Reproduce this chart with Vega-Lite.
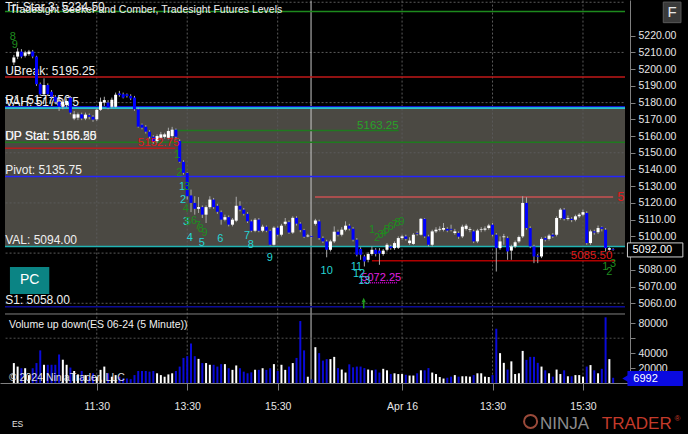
{
"$schema": "https://vega.github.io/schema/vega-lite/v6.json",
"background": "#000000",
"autosize": "none",
"width": 630,
"height": 383,
"padding": {"left": 0, "top": 0, "right": 58, "bottom": 51},
"config": {
  "view": {"stroke": null},
  "font": "Liberation Sans",
  "axis": {"labelFont": "Liberation Sans", "labelFontSize": 10.5, "labelColor": "#e6e6e6", "domainColor": "#808080", "tickColor": "#808080", "title": null, "grid": false, "labelOverlap": false, "labelFlush": false},
  "text": {"font": "Liberation Sans"}
},
"datasets": {
  "bars": [
{"i":0,"o":5204,"h":5208.5,"l":5202.5,"c":5207,"v":26700},
{"i":1,"o":5207.5,"h":5212.5,"l":5206,"c":5210.5,"v":22000},
{"i":2,"o":5210.5,"h":5212,"l":5206.5,"c":5207.5,"v":19800},
{"i":3,"o":5208,"h":5211,"l":5207,"c":5210,"v":19800},
{"i":4,"o":5209,"h":5211.5,"l":5208,"c":5210.5,"v":10600},
{"i":5,"o":5210.5,"h":5211.5,"l":5206.5,"c":5207.5,"v":19800},
{"i":6,"o":5207.5,"h":5208,"l":5190,"c":5191,"v":26700},
{"i":7,"o":5191,"h":5192,"l":5184,"c":5185,"v":43700},
{"i":8,"o":5185,"h":5194.5,"l":5184,"c":5190.5,"v":24400},
{"i":9,"o":5190.5,"h":5191.5,"l":5184,"c":5185,"v":24400},
{"i":10,"o":5186.5,"h":5187.5,"l":5182.5,"c":5183.5,"v":24400},
{"i":11,"o":5183.5,"h":5184.5,"l":5179,"c":5180.5,"v":24400},
{"i":12,"o":5180.5,"h":5182,"l":5175,"c":5177.5,"v":38200},
{"i":13,"o":5177.5,"h":5182,"l":5176,"c":5180.5,"v":31200},
{"i":14,"o":5178.5,"h":5182.5,"l":5177,"c":5181,"v":24400},
{"i":15,"o":5183,"h":5184,"l":5173,"c":5174,"v":20700},
{"i":16,"o":5170.5,"h":5175,"l":5169.5,"c":5173,"v":16100},
{"i":17,"o":5171,"h":5174,"l":5169.5,"c":5173,"v":11500},
{"i":18,"o":5173,"h":5174,"l":5169.5,"c":5170.5,"v":16100},
{"i":19,"o":5170.5,"h":5174,"l":5169.5,"c":5172.8,"v":10600},
{"i":20,"o":5172.5,"h":5173.5,"l":5170,"c":5171.5,"v":8400},
{"i":21,"o":5171.5,"h":5172.5,"l":5168.5,"c":5169.8,"v":13000},
{"i":22,"o":5170,"h":5176.5,"l":5169,"c":5175.7,"v":8400},
{"i":23,"o":5175.7,"h":5183,"l":5175,"c":5180.5,"v":17600},
{"i":24,"o":5180,"h":5183.5,"l":5178,"c":5181.5,"v":22000},
{"i":25,"o":5180,"h":5181.5,"l":5176,"c":5177,"v":13000},
{"i":26,"o":5177.5,"h":5183,"l":5176.5,"c":5181.7,"v":8400},
{"i":27,"o":5177.5,"h":5186,"l":5177,"c":5184.7,"v":10600},
{"i":28,"o":5185.5,"h":5187,"l":5183.5,"c":5184.5,"v":8400},
{"i":29,"o":5185,"h":5186,"l":5182.5,"c":5183,"v":6100},
{"i":30,"o":5185,"h":5185.5,"l":5183,"c":5184,"v":6100},
{"i":31,"o":5184,"h":5185,"l":5181.5,"c":5182.5,"v":5200},
{"i":32,"o":5183,"h":5184,"l":5175,"c":5176,"v":10600},
{"i":33,"o":5176,"h":5177,"l":5165,"c":5165.6,"v":16100},
{"i":34,"o":5166.8,"h":5167.5,"l":5164,"c":5165,"v":16100},
{"i":35,"o":5165.6,"h":5166.5,"l":5161.5,"c":5162.6,"v":16100},
{"i":36,"o":5162.6,"h":5163.5,"l":5158.5,"c":5159.6,"v":15200},
{"i":37,"o":5159.6,"h":5160.5,"l":5155.5,"c":5156.5,"v":16100},
{"i":38,"o":5157,"h":5161,"l":5156,"c":5160,"v":13000},
{"i":39,"o":5159,"h":5162.5,"l":5158,"c":5161,"v":10600},
{"i":40,"o":5159.5,"h":5162,"l":5158.5,"c":5161,"v":8400},
{"i":41,"o":5159,"h":5165,"l":5158,"c":5163,"v":11500},
{"i":42,"o":5160,"h":5165.5,"l":5159,"c":5163.8,"v":13000},
{"i":43,"o":5163.8,"h":5164.5,"l":5158,"c":5159.6,"v":16100},
{"i":44,"o":5157,"h":5158,"l":5144,"c":5144.6,"v":22000},
{"i":45,"o":5144.6,"h":5145.5,"l":5137,"c":5138,"v":33600},
{"i":46,"o":5138,"h":5138.5,"l":5122,"c":5124,"v":35900},
{"i":47,"o":5124.5,"h":5128,"l":5114.5,"c":5120,"v":52900},
{"i":48,"o":5120,"h":5124,"l":5113,"c":5116.5,"v":35900},
{"i":49,"o":5116.5,"h":5123.5,"l":5114,"c":5117.5,"v":32300},
{"i":50,"o":5117.5,"h":5118.5,"l":5111,"c":5113,"v":26700},
{"i":51,"o":5113,"h":5118.5,"l":5108,"c":5117.5,"v":26700},
{"i":52,"o":5117.5,"h":5124,"l":5116.5,"c":5122,"v":24400},
{"i":53,"o":5122,"h":5123,"l":5116.5,"c":5117.5,"v":24400},
{"i":54,"o":5118.3,"h":5119.5,"l":5113.5,"c":5114.7,"v":22000},
{"i":55,"o":5114.5,"h":5115.5,"l":5107,"c":5110,"v":25300},
{"i":56,"o":5110,"h":5113,"l":5109,"c":5111.5,"v":25300},
{"i":57,"o":5111.5,"h":5112.5,"l":5106,"c":5107,"v":19800},
{"i":58,"o":5107,"h":5111,"l":5106,"c":5110,"v":17600},
{"i":59,"o":5109.4,"h":5123.7,"l":5108.5,"c":5118.3,"v":23500},
{"i":60,"o":5118.3,"h":5121,"l":5115,"c":5116,"v":19800},
{"i":61,"o":5116,"h":5117,"l":5112.5,"c":5113.5,"v":15200},
{"i":62,"o":5113.5,"h":5114.5,"l":5108,"c":5109,"v":13000},
{"i":63,"o":5109,"h":5110,"l":5102.5,"c":5103.4,"v":14300},
{"i":64,"o":5103.4,"h":5111,"l":5102.5,"c":5110,"v":17600},
{"i":65,"o":5110,"h":5111,"l":5102.5,"c":5103.4,"v":17600},
{"i":66,"o":5103.4,"h":5107,"l":5102.5,"c":5105.8,"v":19800},
{"i":67,"o":5105.8,"h":5106.5,"l":5102.5,"c":5103.4,"v":17600},
{"i":68,"o":5103.4,"h":5104,"l":5094.5,"c":5095,"v":19800},
{"i":69,"o":5095,"h":5106,"l":5094.5,"c":5105.2,"v":25300},
{"i":70,"o":5105.2,"h":5106,"l":5100,"c":5101,"v":16100},
{"i":71,"o":5101,"h":5107.5,"l":5100,"c":5106.4,"v":24400},
{"i":72,"o":5107.5,"h":5111,"l":5106.5,"c":5108.8,"v":17600},
{"i":73,"o":5108.5,"h":5109.5,"l":5101.5,"c":5102.3,"v":22000},
{"i":74,"o":5102.3,"h":5112,"l":5101.5,"c":5111.1,"v":26700},
{"i":75,"o":5111.1,"h":5112,"l":5106.5,"c":5107.6,"v":33600},
{"i":76,"o":5107.6,"h":5108.5,"l":5102.5,"c":5103.8,"v":83000},
{"i":77,"o":5103.8,"h":5104.5,"l":5099,"c":5099.8,"v":43700},
{"i":78,"o":5100,"h":5101.5,"l":5099.5,"c":5100.5,"v":8400},
{"i":79,"o":5100.3,"h":5100.8,"l":5099.3,"c":5099.8,"v":4800},
{"i":80,"o":5107.5,"h":5110.5,"l":5106.5,"c":5109.5,"v":48000},
{"i":81,"o":5109,"h":5110,"l":5098,"c":5099,"v":40000},
{"i":82,"o":5099,"h":5100,"l":5096,"c":5097,"v":30000},
{"i":83,"o":5097,"h":5098,"l":5087.5,"c":5092,"v":32000},
{"i":84,"o":5092,"h":5098,"l":5091,"c":5097,"v":32000},
{"i":85,"o":5097,"h":5106,"l":5096,"c":5102.8,"v":35000},
{"i":86,"o":5102.8,"h":5104,"l":5100,"c":5101,"v":20000},
{"i":87,"o":5101,"h":5105.5,"l":5100,"c":5104,"v":18000},
{"i":88,"o":5104,"h":5109,"l":5103,"c":5106.4,"v":14000},
{"i":89,"o":5106.4,"h":5107.5,"l":5103.5,"c":5104.6,"v":25000},
{"i":90,"o":5104.6,"h":5105.5,"l":5097,"c":5098,"v":21000},
{"i":91,"o":5098,"h":5099,"l":5088,"c":5089,"v":22000},
{"i":92,"o":5092.5,"h":5093.5,"l":5086,"c":5089,"v":22000},
{"i":93,"o":5088,"h":5089,"l":5082,"c":5085,"v":20000},
{"i":94,"o":5086,"h":5090.5,"l":5084.5,"c":5089.5,"v":18000},
{"i":95,"o":5089.5,"h":5094,"l":5088.5,"c":5092,"v":17000},
{"i":96,"o":5092,"h":5093,"l":5088,"c":5089.5,"v":18000},
{"i":97,"o":5091.5,"h":5093,"l":5083,"c":5089.8,"v":14000},
{"i":98,"o":5089.5,"h":5092.5,"l":5088.5,"c":5091.5,"v":19000},
{"i":99,"o":5092,"h":5096,"l":5091,"c":5095,"v":17000},
{"i":100,"o":5094,"h":5095,"l":5092,"c":5093,"v":12000},
{"i":101,"o":5093,"h":5097,"l":5092,"c":5096,"v":13000},
{"i":102,"o":5093.2,"h":5100,"l":5092.5,"c":5099,"v":12000},
{"i":103,"o":5099,"h":5101,"l":5098,"c":5100,"v":12000},
{"i":104,"o":5100,"h":5101,"l":5097.5,"c":5098.5,"v":11000},
{"i":105,"o":5096,"h":5099.5,"l":5095,"c":5097.5,"v":10000},
{"i":106,"o":5095.5,"h":5102,"l":5095,"c":5101,"v":10000},
{"i":107,"o":5102,"h":5103,"l":5100.5,"c":5101.6,"v":13000},
{"i":108,"o":5101,"h":5111,"l":5100.5,"c":5110.5,"v":17000},
{"i":109,"o":5110.5,"h":5111,"l":5099,"c":5100,"v":17000},
{"i":110,"o":5100,"h":5101,"l":5094,"c":5095,"v":20000},
{"i":111,"o":5095,"h":5104,"l":5094,"c":5103,"v":14000},
{"i":112,"o":5103,"h":5105.5,"l":5102,"c":5104,"v":12000},
{"i":113,"o":5104,"h":5106,"l":5103,"c":5104.5,"v":8000},
{"i":114,"o":5104,"h":5108,"l":5103,"c":5105,"v":6000},
{"i":115,"o":5104.5,"h":5105.5,"l":5102.5,"c":5103.5,"v":7000},
{"i":116,"o":5104.5,"h":5107,"l":5103,"c":5104,"v":8500},
{"i":117,"o":5102,"h":5104.5,"l":5101,"c":5103,"v":10600},
{"i":118,"o":5102,"h":5103,"l":5098.5,"c":5099.8,"v":8500},
{"i":119,"o":5100,"h":5107,"l":5099,"c":5105.8,"v":9000},
{"i":120,"o":5104.5,"h":5107.5,"l":5103.5,"c":5106.4,"v":9000},
{"i":121,"o":5103.8,"h":5105.5,"l":5102.5,"c":5104.3,"v":8500},
{"i":122,"o":5103,"h":5104,"l":5096,"c":5097,"v":10600},
{"i":123,"o":5097,"h":5104.5,"l":5096,"c":5103.5,"v":13000},
{"i":124,"o":5103.8,"h":5105.5,"l":5102.5,"c":5104.2,"v":13000},
{"i":125,"o":5104,"h":5106,"l":5103,"c":5104.7,"v":8500},
{"i":126,"o":5105,"h":5107.5,"l":5104,"c":5106.5,"v":8000},
{"i":127,"o":5107,"h":5108,"l":5100,"c":5101,"v":10600},
{"i":128,"o":5101,"h":5102,"l":5079,"c":5093,"v":72700},
{"i":129,"o":5093,"h":5100,"l":5092,"c":5097,"v":40000},
{"i":130,"o":5099.5,"h":5101.5,"l":5095,"c":5100,"v":27000},
{"i":131,"o":5099,"h":5100,"l":5086,"c":5091,"v":18000},
{"i":132,"o":5091.5,"h":5095,"l":5086,"c":5094,"v":29000},
{"i":133,"o":5094,"h":5097.5,"l":5093,"c":5096.5,"v":12000},
{"i":134,"o":5097,"h":5100.5,"l":5096,"c":5099.6,"v":13000},
{"i":135,"o":5100,"h":5124,"l":5099,"c":5120,"v":43000},
{"i":136,"o":5120,"h":5123.5,"l":5104,"c":5105,"v":31000},
{"i":137,"o":5105,"h":5106,"l":5093,"c":5094,"v":35000},
{"i":138,"o":5094,"h":5095,"l":5084,"c":5088,"v":35000},
{"i":139,"o":5088.5,"h":5089.5,"l":5084,"c":5087.8,"v":27000},
{"i":140,"o":5088,"h":5099.5,"l":5087,"c":5098.5,"v":22000},
{"i":141,"o":5099,"h":5100,"l":5097,"c":5098,"v":17000},
{"i":142,"o":5098.5,"h":5101.5,"l":5097.5,"c":5100.5,"v":13000},
{"i":143,"o":5101,"h":5102,"l":5099,"c":5100,"v":8500},
{"i":144,"o":5101,"h":5112,"l":5100,"c":5111,"v":18000},
{"i":145,"o":5111,"h":5117,"l":5110,"c":5116,"v":12000},
{"i":146,"o":5116,"h":5117,"l":5109.5,"c":5110.5,"v":17000},
{"i":147,"o":5110.5,"h":5112.5,"l":5109.5,"c":5111,"v":9000},
{"i":148,"o":5110.5,"h":5111.5,"l":5108.5,"c":5109.8,"v":9000},
{"i":149,"o":5110,"h":5113,"l":5109,"c":5112,"v":10600},
{"i":150,"o":5112,"h":5114,"l":5111,"c":5113,"v":10600},
{"i":151,"o":5113,"h":5116,"l":5112,"c":5114.5,"v":8500},
{"i":152,"o":5114,"h":5115,"l":5095,"c":5096,"v":22000},
{"i":153,"o":5096,"h":5104,"l":5095,"c":5103,"v":24000},
{"i":154,"o":5103,"h":5104,"l":5101,"c":5102.3,"v":17000},
{"i":155,"o":5102.5,"h":5106.5,"l":5101.5,"c":5105,"v":13000},
{"i":156,"o":5105.5,"h":5106,"l":5103,"c":5104.5,"v":19000},
{"i":157,"o":5104,"h":5105,"l":5091,"c":5093,"v":88000},
{"i":158,"o":5092,"h":5093.5,"l":5091.5,"c":5093,"v":32000},
{"i":159,"o":5092.5,"h":5093,"l":5091.5,"c":5092,"v":6992}
  ],
  "ticks": [{"i":22},{"i":46},{"i":70},{"i":103},{"i":127},{"i":151}],
  "session": [{"i":78.85}],
  "levels": [
    {"k":"Tri-Star","p":5234.5},{"k":"UBreak","p":5195.25},{"k":"R1","p":5177.5},{"k":"VAH","p":5176.75},
    {"k":"DP Stat","p":5156.25},{"k":"Pivot","p":5135.75},{"k":"VAL","p":5094},{"k":"S1","p":5058}
  ],
  "td": [
    {"n":"1","i":44.65,"p":5129.7,"k":"td count"},{"n":"2","i":44.9,"p":5121.9,"k":"td count"},
    {"n":"3","i":45.7,"p":5108.8,"k":"td count"},{"n":"4","i":46.7,"p":5099.2,"k":"td count"},
    {"n":"5","i":49.9,"p":5096.2,"k":"td count"},{"n":"6","i":54.8,"p":5098.6,"k":"td count"},
    {"n":"7","i":61.9,"p":5100.4,"k":"td count"},{"n":"8","i":62.9,"p":5095.0,"k":"td count"},
    {"n":"9","i":67.9,"p":5087.2,"k":"td count"},{"n":"10","i":83.0,"p":5079.5,"k":"td count"},
    {"n":"11","i":90.9,"p":5081.8,"k":"td count"},{"n":"12","i":91.6,"p":5077.7,"k":"td count"},
    {"n":"13","i":93.0,"p":5073.5,"k":"td count"},
    {"n":"8","i":-0.26,"p":5219.2,"k":"td setup"},{"n":"9","i":0.26,"p":5214.5,"k":"td setup"},
    {"n":"1","i":43.3,"p":5148.8,"k":"td setup"},{"n":"2","i":43.9,"p":5138.1,"k":"td setup"},
    {"n":"3","i":45.9,"p":5129.7,"k":"td setup"},{"n":"4","i":45.6,"p":5116.5,"k":"td setup"},
    {"n":"5","i":46.2,"p":5108.8,"k":"td setup"},{"n":"6","i":47.8,"p":5109.4,"k":"td setup"},
    {"n":"7","i":48.8,"p":5106.4,"k":"td setup"},{"n":"8","i":49.6,"p":5104.6,"k":"td setup"},
    {"n":"9","i":50.6,"p":5102.2,"k":"td setup"},
    {"n":"1","i":95.04,"p":5104.0,"k":"td setup"},{"n":"2","i":96.34,"p":5099.2,"k":"td setup"},
    {"n":"3","i":97.39,"p":5101.0,"k":"td setup"},{"n":"4","i":98.17,"p":5102.2,"k":"td setup"},
    {"n":"5","i":98.96,"p":5104.0,"k":"td setup"},{"n":"6","i":100.0,"p":5105.8,"k":"td setup"},
    {"n":"7","i":101.05,"p":5107.0,"k":"td setup"},{"n":"8","i":101.83,"p":5108.2,"k":"td setup"},
    {"n":"9","i":102.87,"p":5108.8,"k":"td setup"},
    {"n":"1","i":156.9,"p":5081.8,"k":"td setup"},{"n":"2","i":157.96,"p":5078.9,"k":"td setup"},
    {"n":"3","i":159.0,"p":5083.6,"k":"td setup"}
  ]
},
"resolve": {"scale": {"y": "independent"}, "axis": {"x": "independent", "y": "independent"}},
"layer": [
{
  "resolve": {"axis": {"x": "independent", "y": "independent"}},
  "layer": [
    {"data": {"values": [{"lo":5094,"hi":5176.75}]},
     "mark": {"type":"rect","color":"#4b4943"},
     "encoding": {"x": {"datum": -2.35, "scale":{"domain":[-2.35,162.15],"nice":false,"zero":false}, "axis": null},
                  "x2": {"datum": 162.15},
                  "y": {"field":"hi","type":"quantitative","scale":{"domain":[5012.34,5241.35],"nice":false,"zero":false},
                        "axis":{"orient":"right","values":[5060,5070,5080,5090,5100,5110,5120,5130,5140,5150,5160,5170,5180,5190,5200,5210,5220],"format":".2f","tickSize":5,"labelPadding":3,"labelOverlap":false,"domain":true}},
                  "y2": {"field":"lo"}}},
    {"data": {"values": [{"p":5060},{"p":5090},{"p":5120},{"p":5150},{"p":5180},{"p":5210},{"p":5240}]},
     "mark": {"type":"rule","color":"#5a5a5a","strokeDash":[2,2],"strokeWidth":1},
     "encoding": {"x": {"datum": -2.2, "axis": null}, "x2": {"datum": 162.15},
                  "y": {"field":"p","type":"quantitative","axis":null}}},
    {"data": {"name": "ticks"},
     "mark": {"type":"rule","color":"#5a5a5a","strokeDash":[2,2],"strokeWidth":1},
     "encoding": {"x": {"field":"i","type":"quantitative","axis":null},
                  "y": {"datum": 5241.0, "axis": null}, "y2": {"datum": 5012.34}}},
    {"data": {"name": "session"},
     "mark": {"type":"rule","color":"#c8c8c8","strokeWidth":1},
     "encoding": {"x": {"field":"i","type":"quantitative","axis":null},
                  "y": {"datum": 5241.0, "axis": null}, "y2": {"datum": 5012.34}}},
    {"data": {"values": [{"p":5053.6}]},
     "mark": {"type":"rule","color":"#808080","strokeWidth":1},
     "encoding": {"x": {"datum": -2.35, "axis": null}, "x2": {"datum": 162.15},
                  "y": {"field":"p","type":"quantitative","axis":null}}},
    {"data": {"name": "levels"},
     "mark": {"type":"rule","strokeWidth":1.5},
     "encoding": {"x": {"datum": -2.35, "axis": null}, "x2": {"datum": 162.15},
                  "y": {"field":"p","type":"quantitative","axis":null},
                  "color": {"field":"k","type":"nominal","legend":null,
                    "scale": {"domain":["Tri-Star","UBreak","R1","VAH","DP Stat","Pivot","VAL","S1","seg green","seg red","seg salmon","seg dkred","magenta","td count","td setup","lbl green","lbl red","lbl magenta"],
                              "range":["#1d8a1d","#c01818","#1414c8","#22e4f4","#1f7a1f","#2424ff","#22b4b4","#0c0c96","#1f7a1f","#b81c1c","#c85050","#b00000","#d400d4","#25d5d5","#1f8c1f","#27a327","#e01a1a","#e020e0"]}}}},
    {"data": {"values": [
        {"k":"seg green","p":5163.25,"x0":42.5,"x1":102.1},
        {"k":"seg red","p":5152.75,"x0":-2.35,"x1":42.8},
        {"k":"seg salmon","p":5123.5,"x0":79.9,"x1":159.0},
        {"k":"seg dkred","p":5085.5,"x0":95.0,"x1":159.5}]},
     "mark": {"type":"rule","strokeWidth":1.5},
     "encoding": {"x": {"field":"x0","type":"quantitative","axis":null}, "x2": {"field":"x1"},
                  "y": {"field":"p","type":"quantitative","axis":null},
                  "color": {"field":"k","type":"nominal","legend":null,
                    "scale": {"domain":["Tri-Star","UBreak","R1","VAH","DP Stat","Pivot","VAL","S1","seg green","seg red","seg salmon","seg dkred","magenta","td count","td setup","lbl green","lbl red","lbl magenta"],
                              "range":["#1d8a1d","#c01818","#1414c8","#22e4f4","#1f7a1f","#2424ff","#22b4b4","#0c0c96","#1f7a1f","#b81c1c","#c85050","#b00000","#d400d4","#25d5d5","#1f8c1f","#27a327","#e01a1a","#e020e0"]}}}},
    {"data": {"values": [{"p":5072.25,"x0":91.8,"x1":101.6}]},
     "mark": {"type":"rule","strokeWidth":1.5,"color":"#d400d4","strokeDash":[1,1]},
     "encoding": {"x": {"field":"x0","type":"quantitative","axis":null}, "x2": {"field":"x1"},
                  "y": {"field":"p","type":"quantitative","axis":null}}},
    {"data": {"values": [
        {"t":"UBreak: 5195.25","p":5195.25},{"t":"R1: 5177.50","p":5177.5},{"t":"VAH: 5176.75","p":5176.75},
        {"t":"UP Stat: 5165.50","p":5156.25},{"t":"DP Stat: 5156.25","p":5156.25},
        {"t":"Pivot: 5135.75","p":5135.75},{"t":"VAL: 5094.00","p":5094},{"t":"S1: 5058.00","p":5058},
        {"t":"Tri-Star 3: 5234.50","p":5233.5}]},
     "mark": {"type":"text","align":"left","baseline":"alphabetic","dy":-2.5,"fontSize":12,"color":"#f0f0f0"},
     "encoding": {"x": {"datum": -2.3, "axis": null}, "y": {"field":"p","type":"quantitative","axis":null}, "text": {"field":"t"}}},
    {"data": {"name": "bars"},
     "mark": {"type":"rule","color":"#a9a9a9","strokeWidth":1},
     "encoding": {"x": {"field":"i","type":"quantitative","axis":null}, "y": {"field":"l","type":"quantitative","axis":null}, "y2": {"field":"h"}}},
    {"data": {"name": "bars"},
     "mark": {"type":"bar","size":3},
     "encoding": {
       "x": {"field":"i","type":"quantitative","axis":null},
       "y": {"field":"o","type":"quantitative","axis":null},
       "y2": {"field":"c"},
       "color": {"condition": {"test":"datum.c >= datum.o","value":"#ffffff"},"value":"#0000ff"}}},
    {"data": {"values": [
        {"t":"5163.25","p":5163.25,"x":102.1,"k":"lbl green"},
        {"t":"5152.75","p":5152.75,"x":43.9,"k":"lbl red"},
        {"t":"5085.50","p":5085.5,"x":158.8,"k":"lbl red"}]},
     "mark": {"type":"text","align":"right","baseline":"alphabetic","dy":-2,"fontSize":11.5},
     "encoding": {"x": {"field":"x","type":"quantitative","axis":null}, "y": {"field":"p","type":"quantitative","axis":null}, "text": {"field":"t"},
                  "color": {"field":"k","type":"nominal","legend":null,
                    "scale": {"domain":["Tri-Star","UBreak","R1","VAH","DP Stat","Pivot","VAL","S1","seg green","seg red","seg salmon","seg dkred","magenta","td count","td setup","lbl green","lbl red","lbl magenta"],
                              "range":["#1d8a1d","#c01818","#1414c8","#22e4f4","#1f7a1f","#2424ff","#22b4b4","#0c0c96","#1f7a1f","#b81c1c","#c85050","#b00000","#d400d4","#25d5d5","#1f8c1f","#27a327","#e01a1a","#e020e0"]}}}},
    {"data": {"values": [{"t":"5072.25","p":5072.25,"x":92.2}]},
     "mark": {"type":"text","align":"left","baseline":"alphabetic","dy":-1.5,"fontSize":11,"color":"#e020e0"},
     "encoding": {"x": {"field":"x","type":"quantitative","axis":null}, "y": {"field":"p","type":"quantitative","axis":null}, "text": {"field":"t"}}},
    {"data": {"values": [{"t":"5","p":5123.3,"x":160.1}]},
     "mark": {"type":"text","align":"left","baseline":"middle","fontSize":13,"color":"#e01a1a"},
     "encoding": {"x": {"field":"x","type":"quantitative","axis":null}, "y": {"field":"p","type":"quantitative","axis":null}, "text": {"field":"t"}}},
    {"data": {"name": "td"},
     "mark": {"type":"text","align":"center","baseline":"middle","fontSize":11},
     "encoding": {"x": {"field":"i","type":"quantitative","axis":null}, "y": {"field":"p","type":"quantitative","axis":null}, "text": {"field":"n"},
                  "color": {"field":"k","type":"nominal","legend":null,
                    "scale": {"domain":["Tri-Star","UBreak","R1","VAH","DP Stat","Pivot","VAL","S1","seg green","seg red","seg salmon","seg dkred","magenta","td count","td setup","lbl green","lbl red","lbl magenta"],
                              "range":["#1d8a1d","#c01818","#1414c8","#22e4f4","#1f7a1f","#2424ff","#22b4b4","#0c0c96","#1f7a1f","#b81c1c","#c85050","#b00000","#d400d4","#25d5d5","#1f8c1f","#27a327","#e01a1a","#e020e0"]}}}},
    {"data": {"values": [{"t":"PC"}]},
     "mark": {"type":"rect","color":"#0b8484"},
     "encoding": {"x": {"datum": -1.04, "axis": null}, "x2": {"datum": 9.4}, "y": {"datum": 5081.7, "axis": null}, "y2": {"datum": 5065.6}}},
    {"data": {"values": [{"t":"PC"}]},
     "mark": {"type":"text","align":"center","baseline":"middle","fontSize":14,"color":"#ffffff"},
     "encoding": {"x": {"datum": 4.18, "axis": null}, "y": {"datum": 5073.7, "axis": null}, "text": {"field":"t"}}},
    {"data": {"values": [{"t":"F"}]},
     "mark": {"type":"rect","color":"#3a3a3a","stroke":"#5a5a5a","strokeWidth":1},
     "encoding": {"x": {"datum": 172.3, "axis": null}, "x2": {"datum": 177.0}, "y": {"datum": 5240.1, "axis": null}, "y2": {"datum": 5227.8}}},
    {"data": {"values": [{"t":"F"}]},
     "mark": {"type":"text","align":"center","baseline":"middle","fontSize":15,"color":"#e8e8e8"},
     "encoding": {"x": {"datum": 174.67, "axis": null}, "y": {"datum": 5234.0, "axis": null}, "text": {"field":"t"}}},
    {"data": {"values": [{"t":"5092.00"}]},
     "mark": {"type":"rect","color":"#000000","stroke":"#d0d0d0","strokeWidth":1},
     "encoding": {"x": {"datum": 162.8, "axis": null}, "x2": {"datum": 177.5}, "y": {"datum": 5096.1, "axis": null}, "y2": {"datum": 5087.7}}},
    {"data": {"values": [{"t":"5092.00"}]},
     "mark": {"type":"text","align":"center","baseline":"middle","fontSize":11,"color":"#ffffff"},
     "encoding": {"x": {"datum": 169.4, "axis": null}, "y": {"datum": 5091.9, "axis": null}, "text": {"field":"t"}}},
    {"data": {"values": [{"t":"Tradesight Seeker and Comber, Tradesight Futures Levels"}]},
     "mark": {"type":"text","align":"left","baseline":"alphabetic","fontSize":10.5,"color":"#f0f0f0"},
     "encoding": {"x": {"datum": -1.0, "axis": null}, "y": {"datum": 5233.3, "axis": null}, "text": {"field":"t"}}},
    {"data": {"values": [{"t":"arrow"}]},
     "mark": {"type":"point","shape":"arrow","size":110,"filled":true,"color":"#1f9a1f","opacity":1},
     "encoding": {"x": {"datum": 92.82, "axis": null}, "y": {"datum": 5060.2, "axis": null}}}
  ]
},
{
  "resolve": {"axis": {"x": "independent", "y": "independent"}},
  "layer": [
    {"data": {"name": "bars"},
     "mark": {"type":"bar","size":2},
     "encoding": {
       "x": {"field":"i","type":"quantitative",
             "axis":{"orient":"bottom","values":[22,46,70,103,127,151],
                     "labelExpr":"datum.value == 22 ? '11:30' : datum.value == 46 ? '13:30' : datum.value == 70 ? '15:30' : datum.value == 103 ? 'Apr 16' : datum.value == 127 ? '13:30' : '15:30'",
                     "tickSize":7,"labelPadding":11,"domain":true,"labelOverlap":false}},
       "y": {"field":"v","type":"quantitative","scale":{"domain":[0,513100],"nice":false,"zero":false},
             "axis":{"orient":"right","values":[0,20000,40000,60000,80000],"format":"d",
                     "labelExpr":"datum.value == 0 || datum.value == 60000 ? '' : datum.label","tickSize":5,"labelPadding":3,"labelOverlap":false,"domain":false}},
       "y2": {"datum": 0},
       "color": {"condition": {"test":"datum.c >= datum.o","value":"#ffffff"},"value":"#0a0ad8"}}},
    {"data": {"values": [{"v":60000}]},
     "mark": {"type":"rule","color":"#505050","strokeDash":[2,2],"strokeWidth":1},
     "encoding": {"x": {"datum": -2.2, "axis": null}, "x2": {"datum": 162.15},
                  "y": {"field":"v","type":"quantitative","axis":null}}},
    {"data": {"values": [{"t":"Volume up down(ES 06-24 (5 Minute))"}]},
     "mark": {"type":"text","align":"left","baseline":"middle","fontSize":10.5,"color":"#f0f0f0"},
     "encoding": {"x": {"datum": -1.3, "axis": null}, "y": {"datum": 77700, "axis": null}, "text": {"field":"t"}}},
    {"data": {"values": [{"t":"© 2024 NinjaTrader, LLC"}]},
     "mark": {"type":"text","align":"left","baseline":"middle","fontSize":10.5,"color":"#f0f0f0","opacity":0.9},
     "encoding": {"x": {"datum": -1.3, "axis": null}, "y": {"datum": 6700, "axis": null}, "text": {"field":"t"}}},
    {"data": {"values": [{"t":"6992"}]},
     "mark": {"type":"rect","color":"#0a0ae0"},
     "encoding": {"x": {"datum": 162.8, "axis": null}, "x2": {"datum": 177.5}, "y": {"datum": 16000, "axis": null}, "y2": {"datum": -4000}}},
    {"data": {"values": [{"t":"6992"}]},
     "mark": {"type":"point","shape":"triangle-left","size":70,"filled":true,"color":"#0a0ae0","opacity":1},
     "encoding": {"x": {"datum": 162.4, "axis": null}, "y": {"datum": 6000, "axis": null}}},
    {"data": {"values": [{"t":"6992"}]},
     "mark": {"type":"text","align":"center","baseline":"middle","fontSize":11,"color":"#ffffff"},
     "encoding": {"x": {"datum": 167.6, "axis": null}, "y": {"datum": 6000, "axis": null}, "text": {"field":"t"}}},
    {"data": {"values": [{"t":"ES"}]},
     "mark": {"type":"text","align":"left","baseline":"alphabetic","fontSize":8.5,"color":"#e0e0e0"},
     "encoding": {"x": {"datum": -0.52, "axis": null}, "y": {"datum": -58500, "axis": null}, "text": {"field":"t"}}},
    {"data": {"values": [{"t":"logo"}]},
     "mark": {"type":"point","shape":"circle","size":170,"filled":false,"stroke":"#9a4a3a","strokeWidth":2,"opacity":1},
     "encoding": {"x": {"datum": 137.1, "axis": null}, "y": {"datum": -51500, "axis": null}}},
    {"data": {"values": [{"t":"NINJA"}]},
     "mark": {"type":"text","align":"left","baseline":"alphabetic","fontSize":17,"color":"#8c8c8c"},
     "encoding": {"x": {"datum": 139.6, "axis": null}, "y": {"datum": -61000, "axis": null}, "text": {"field":"t"}}},
    {"data": {"values": [{"t":"TRADER"}]},
     "mark": {"type":"text","align":"left","baseline":"alphabetic","fontSize":17,"color":"#c43a2a"},
     "encoding": {"x": {"datum": 156.0, "axis": null}, "y": {"datum": -61000, "axis": null}, "text": {"field":"t"}}},
    {"data": {"values": [{"t":"®"}]},
     "mark": {"type":"text","align":"left","baseline":"alphabetic","fontSize":8,"color":"#c43a2a"},
     "encoding": {"x": {"datum": 175.3, "axis": null}, "y": {"datum": -50500, "axis": null}, "text": {"field":"t"}}}
  ]
}
]
}
